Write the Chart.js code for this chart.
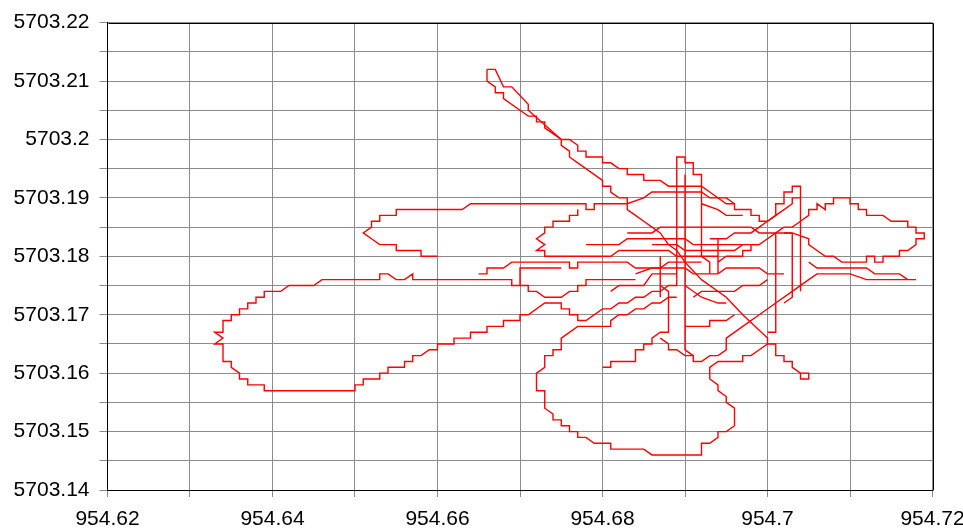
<!DOCTYPE html>
<html>
<head>
<meta charset="utf-8">
<script src="https://cdn.jsdelivr.net/npm/chart.js@4.4.1/dist/chart.umd.min.js"></script>
<style>
  html, body { margin: 0; padding: 0; background: #fff; }
  #wrap { width: 963px; height: 532px; }
</style>
</head>
<body>
<div id="wrap"><canvas id="track" width="963" height="532"></canvas></div>
<script>
// Axis labels (only every other grid line carries a label)
const xLabels = ['954.62', '954.64', '954.66', '954.68', '954.7', '954.72'];
const yLabels = ['5703.14', '5703.15', '5703.16', '5703.17', '5703.18', '5703.19', '5703.2', '5703.21', '5703.22'];

// Track pieces, [x, y]
const westLoop = [
  [954.684, 5703.176], [954.678, 5703.176], [954.678, 5703.175], [954.677, 5703.175], [954.677, 5703.174],
  [954.676, 5703.174], [954.675, 5703.173], [954.673, 5703.173], [954.672, 5703.174], [954.671, 5703.174],
  [954.671, 5703.175], [954.669, 5703.175], [954.669, 5703.176], [954.657, 5703.176], [954.657, 5703.177],
  [954.656, 5703.176], [954.655, 5703.176], [954.654, 5703.177], [954.653, 5703.177], [954.653, 5703.176],
  [954.646, 5703.176], [954.645, 5703.175], [954.642, 5703.175], [954.641, 5703.174], [954.639, 5703.174],
  [954.639, 5703.173], [954.638, 5703.173], [954.638, 5703.172], [954.637, 5703.172], [954.637, 5703.171],
  [954.636, 5703.171], [954.636, 5703.170], [954.635, 5703.170], [954.635, 5703.169], [954.634, 5703.169],
  [954.634, 5703.167], [954.633, 5703.167], [954.634, 5703.166], [954.633, 5703.165], [954.634, 5703.165],
  [954.634, 5703.162], [954.635, 5703.162], [954.635, 5703.161], [954.636, 5703.160], [954.636, 5703.159],
  [954.637, 5703.159], [954.637, 5703.158], [954.639, 5703.158], [954.639, 5703.157], [954.650, 5703.157],
  [954.650, 5703.158], [954.651, 5703.158], [954.651, 5703.159], [954.653, 5703.159], [954.653, 5703.160],
  [954.654, 5703.160], [954.654, 5703.161], [954.656, 5703.161], [954.656, 5703.162], [954.657, 5703.162],
  [954.657, 5703.163], [954.658, 5703.163], [954.659, 5703.164], [954.660, 5703.164], [954.660, 5703.165],
  [954.662, 5703.165], [954.662, 5703.166], [954.664, 5703.166], [954.664, 5703.167], [954.666, 5703.167],
  [954.666, 5703.168], [954.668, 5703.168], [954.668, 5703.169], [954.670, 5703.169], [954.670, 5703.170],
  [954.671, 5703.170], [954.673, 5703.172], [954.675, 5703.172], [954.675, 5703.171], [954.676, 5703.171],
  [954.676, 5703.170], [954.677, 5703.170], [954.677, 5703.169], [954.678, 5703.169], [954.680, 5703.171],
  [954.681, 5703.171], [954.682, 5703.172], [954.683, 5703.172], [954.684, 5703.173], [954.685, 5703.173],
  [954.686, 5703.174], [954.687, 5703.174], [954.688, 5703.175], [954.689, 5703.175], [954.689, 5703.176],
];

const southLoop = [
  [954.689, 5703.173], [954.688, 5703.173], [954.687, 5703.172], [954.686, 5703.172], [954.685, 5703.171],
  [954.684, 5703.171], [954.683, 5703.170], [954.682, 5703.170], [954.681, 5703.169], [954.681, 5703.168],
  [954.678, 5703.168], [954.677, 5703.168], [954.675, 5703.166], [954.675, 5703.164], [954.674, 5703.164],
  [954.674, 5703.163], [954.673, 5703.163], [954.673, 5703.161], [954.672, 5703.160], [954.672, 5703.157],
  [954.673, 5703.157], [954.673, 5703.154], [954.674, 5703.153], [954.674, 5703.152], [954.675, 5703.152],
  [954.675, 5703.151], [954.676, 5703.151], [954.676, 5703.150], [954.677, 5703.150], [954.677, 5703.149],
  [954.678, 5703.149], [954.679, 5703.148], [954.681, 5703.148], [954.681, 5703.147], [954.685, 5703.147],
  [954.686, 5703.146], [954.692, 5703.146], [954.692, 5703.148], [954.693, 5703.148], [954.694, 5703.149],
  [954.694, 5703.150], [954.695, 5703.150], [954.696, 5703.151], [954.696, 5703.154], [954.695, 5703.155],
  [954.695, 5703.156], [954.694, 5703.157], [954.694, 5703.158], [954.693, 5703.159], [954.693, 5703.161],
  [954.694, 5703.162], [954.697, 5703.162], [954.697, 5703.163], [954.698, 5703.163], [954.699, 5703.164],
  [954.700, 5703.165], [954.701, 5703.165], [954.701, 5703.163], [954.702, 5703.163], [954.702, 5703.162],
  [954.703, 5703.162], [954.703, 5703.161], [954.704, 5703.160], [954.704, 5703.159], [954.705, 5703.159],
  [954.705, 5703.160], [954.704, 5703.160],
];

const upperLoop = [
  [954.660, 5703.180], [954.658, 5703.180], [954.658, 5703.181], [954.655, 5703.181], [954.655, 5703.182],
  [954.653, 5703.182], [954.652, 5703.183], [954.651, 5703.184], [954.652, 5703.185], [954.652, 5703.186],
  [954.653, 5703.186], [954.653, 5703.187], [954.655, 5703.187], [954.655, 5703.188], [954.663, 5703.188],
  [954.664, 5703.189], [954.678, 5703.189], [954.678, 5703.188], [954.679, 5703.188], [954.679, 5703.189],
  [954.683, 5703.189], [954.685, 5703.190], [954.686, 5703.191], [954.692, 5703.191], [954.693, 5703.190],
  [954.695, 5703.190], [954.696, 5703.189],
];

const spurOuter = [
  [954.666, 5703.212], [954.667, 5703.212], [954.668, 5703.209], [954.669, 5703.209], [954.671, 5703.206],
  [954.671, 5703.205], [954.675, 5703.200], [954.676, 5703.200], [954.677, 5703.199], [954.677, 5703.198],
  [954.678, 5703.198], [954.678, 5703.197], [954.680, 5703.197], [954.680, 5703.196], [954.681, 5703.196],
  [954.682, 5703.195], [954.683, 5703.195], [954.683, 5703.194], [954.685, 5703.194], [954.685, 5703.193],
  [954.687, 5703.193], [954.688, 5703.192], [954.692, 5703.192], [954.693, 5703.191], [954.695, 5703.189],
  [954.696, 5703.189], [954.696, 5703.188], [954.698, 5703.188], [954.698, 5703.187], [954.699, 5703.187],
  [954.699, 5703.186], [954.700, 5703.186], [954.701, 5703.187], [954.701, 5703.189], [954.702, 5703.189],
  [954.702, 5703.191], [954.703, 5703.191], [954.703, 5703.192], [954.704, 5703.192], [954.704, 5703.174],
];

const spurInner = [
  [954.666, 5703.212], [954.666, 5703.210], [954.667, 5703.209], [954.667, 5703.208], [954.668, 5703.208],
  [954.668, 5703.207], [954.670, 5703.205], [954.671, 5703.204], [954.672, 5703.204], [954.672, 5703.203],
  [954.673, 5703.203], [954.673, 5703.202], [954.674, 5703.201], [954.675, 5703.200], [954.675, 5703.199],
  [954.676, 5703.198], [954.676, 5703.197], [954.677, 5703.196], [954.680, 5703.193], [954.680, 5703.192],
  [954.681, 5703.192], [954.681, 5703.191], [954.682, 5703.190], [954.683, 5703.190], [954.683, 5703.188],
  [954.684, 5703.187], [954.685, 5703.186], [954.686, 5703.185], [954.687, 5703.184], [954.688, 5703.182],
  [954.689, 5703.181], [954.690, 5703.179], [954.692, 5703.176], [954.695, 5703.173], [954.697, 5703.170],
  [954.700, 5703.166], [954.700, 5703.165],
];

const northSpike = [
  [954.689, 5703.176], [954.689, 5703.197], [954.690, 5703.197], [954.690, 5703.196], [954.691, 5703.196],
  [954.691, 5703.194], [954.692, 5703.194], [954.692, 5703.180], [954.693, 5703.179], [954.693, 5703.177],
];

const spikeColumn = [[954.690, 5703.194], [954.690, 5703.164], [954.691, 5703.163]];

const eastLoop = [
  [954.694, 5703.179], [954.695, 5703.180], [954.697, 5703.180], [954.697, 5703.181], [954.698, 5703.181],
  [954.698, 5703.182], [954.699, 5703.182], [954.700, 5703.183], [954.701, 5703.184], [954.702, 5703.185],
  [954.703, 5703.185], [954.704, 5703.186], [954.705, 5703.187], [954.705, 5703.188], [954.706, 5703.188],
  [954.706, 5703.189], [954.707, 5703.188], [954.707, 5703.189], [954.708, 5703.189], [954.708, 5703.190],
  [954.710, 5703.190], [954.710, 5703.189], [954.711, 5703.189], [954.711, 5703.188], [954.712, 5703.188],
  [954.712, 5703.187], [954.714, 5703.187], [954.715, 5703.186], [954.717, 5703.186], [954.717, 5703.185],
  [954.718, 5703.185], [954.718, 5703.184], [954.719, 5703.184], [954.719, 5703.183], [954.718, 5703.183],
  [954.718, 5703.182], [954.717, 5703.181], [954.716, 5703.181], [954.716, 5703.180], [954.714, 5703.180],
  [954.714, 5703.179], [954.713, 5703.179], [954.713, 5703.180], [954.712, 5703.180], [954.712, 5703.179],
  [954.709, 5703.179], [954.708, 5703.180], [954.707, 5703.180], [954.706, 5703.181], [954.705, 5703.182],
  [954.705, 5703.183], [954.703, 5703.184], [954.702, 5703.184],
];

const eastLowerOuter = [
  [954.687, 5703.166], [954.688, 5703.165], [954.688, 5703.164], [954.689, 5703.164], [954.690, 5703.163],
  [954.691, 5703.163], [954.691, 5703.162], [954.692, 5703.162], [954.693, 5703.163], [954.694, 5703.163],
  [954.695, 5703.164], [954.695, 5703.166], [954.697, 5703.168], [954.699, 5703.170], [954.701, 5703.172],
  [954.703, 5703.174], [954.705, 5703.176], [954.706, 5703.177], [954.710, 5703.177], [954.712, 5703.176],
  [954.718, 5703.176],
];

const eastLowerInner = [
  [954.705, 5703.179], [954.706, 5703.178], [954.712, 5703.178], [954.713, 5703.177], [954.716, 5703.177],
  [954.717, 5703.176],
];

const deadEnd = [
  [954.680, 5703.161], [954.681, 5703.161], [954.681, 5703.162], [954.684, 5703.162], [954.684, 5703.164],
  [954.685, 5703.164], [954.685, 5703.165], [954.686, 5703.165], [954.686, 5703.166], [954.687, 5703.167],
  [954.688, 5703.167], [954.688, 5703.174], [954.687, 5703.175],
];

const tipStairs = [
  [954.704, 5703.190], [954.703, 5703.190], [954.703, 5703.189], [954.702, 5703.188], [954.701, 5703.187],
  [954.700, 5703.186], [954.699, 5703.185], [954.698, 5703.184], [954.696, 5703.184], [954.695, 5703.183],
  [954.693, 5703.183],
];

const midRowA = [
  [954.683, 5703.184], [954.686, 5703.184], [954.687, 5703.185], [954.698, 5703.185], [954.699, 5703.184],
  [954.703, 5703.184],
];

const midRowB = [
  [954.678, 5703.182], [954.682, 5703.182], [954.683, 5703.183], [954.690, 5703.183], [954.691, 5703.182],
  [954.697, 5703.182],
];

const midRowC = [
  [954.677, 5703.188], [954.677, 5703.187], [954.676, 5703.187], [954.676, 5703.186], [954.674, 5703.186],
  [954.674, 5703.185], [954.673, 5703.185], [954.673, 5703.184], [954.672, 5703.183], [954.673, 5703.182],
  [954.672, 5703.181], [954.673, 5703.181], [954.673, 5703.180], [954.674, 5703.180], [954.681, 5703.180],
  [954.682, 5703.181], [954.688, 5703.181], [954.689, 5703.180], [954.694, 5703.180],
];

const midRowD = [
  [954.665, 5703.177], [954.666, 5703.177], [954.666, 5703.178], [954.668, 5703.178], [954.669, 5703.179],
  [954.676, 5703.179], [954.676, 5703.178], [954.677, 5703.178], [954.677, 5703.179], [954.683, 5703.179],
  [954.684, 5703.178], [954.687, 5703.178], [954.688, 5703.179], [954.692, 5703.179],
];

const midRowE = [
  [954.686, 5703.182], [954.689, 5703.182], [954.690, 5703.181], [954.696, 5703.181], [954.697, 5703.182],
  [954.699, 5703.182],
];

const midRowF = [
  [954.684, 5703.177], [954.686, 5703.178], [954.690, 5703.178], [954.691, 5703.177], [954.694, 5703.177],
  [954.695, 5703.178], [954.699, 5703.178], [954.700, 5703.177], [954.702, 5703.177],
];

const midRowG = [
  [954.692, 5703.189], [954.694, 5703.188], [954.695, 5703.187], [954.697, 5703.187],
];

const midLink = [[954.670, 5703.175], [954.670, 5703.178], [954.675, 5703.178]];

const midStub = [
  [954.681, 5703.174], [954.682, 5703.175], [954.685, 5703.175], [954.686, 5703.177], [954.689, 5703.177],
];

const colA = [[954.701, 5703.184], [954.701, 5703.167], [954.700, 5703.167]];
const colB = [[954.703, 5703.184], [954.703, 5703.173], [954.702, 5703.172]];
const colC = [[954.687, 5703.180], [954.687, 5703.173]];
const colD = [[954.694, 5703.183], [954.694, 5703.177]];

const lowBarA = [
  [954.691, 5703.173], [954.692, 5703.174], [954.696, 5703.174], [954.697, 5703.175], [954.699, 5703.175],
  [954.700, 5703.176],
];

const lowBarB = [
  [954.690, 5703.168], [954.693, 5703.168], [954.693, 5703.169], [954.695, 5703.169], [954.696, 5703.170],
];

const lowBarC = [
  [954.690, 5703.175], [954.692, 5703.173], [954.694, 5703.172], [954.695, 5703.172],
];

const pieces = [
  westLoop, southLoop, upperLoop, spurOuter, spurInner, northSpike, spikeColumn, eastLoop,
  eastLowerOuter, eastLowerInner, deadEnd, tipStairs, midRowA, midRowB, midRowC, midRowD,
  midRowE, midRowF, midRowG, midLink, midStub, colA, colB, colC, colD, lowBarA, lowBarB, lowBarC,
];

const FONT = { family: "'Liberation Sans', Arial, sans-serif", size: 21 };
const GRID = '#8c8c8c';

function pickLabel(list, value) {
  const hit = list.find(l => Math.abs(Number(l) - value) < 1e-7);
  return hit || '';
}

// top and right frame lines
const frame = {
  id: 'frame',
  afterDraw(chart) {
    const { ctx, chartArea: a } = chart;
    ctx.save();
    ctx.strokeStyle = '#000';
    ctx.lineWidth = 1;
    ctx.beginPath();
    ctx.moveTo(Math.round(a.left) + 0.5, Math.round(a.top) + 0.5);
    ctx.lineTo(Math.round(a.right) + 0.5, Math.round(a.top) + 0.5);
    ctx.lineTo(Math.round(a.right) + 0.5, Math.round(a.bottom) + 0.5);
    ctx.stroke();
    ctx.restore();
  },
};

new Chart(document.getElementById('track'), {
  type: 'scatter',
  data: {
    datasets: pieces.map(p => ({
      data: p.map(([x, y]) => ({ x, y })),
      showLine: true,
      borderColor: '#ff0000',
      borderWidth: 1.4,
      pointRadius: 0,
      tension: 0,
    })),
  },
  options: {
    responsive: false,
    animation: false,
    layout: { padding: { top: 19.5, right: 30.5, left: 0, bottom: 0 } },
    plugins: { legend: { display: false }, tooltip: { enabled: false } },
    scales: {
      x: {
        type: 'linear',
        min: 954.62,
        max: 954.72,
        afterFit(scale) { scale.height = 42; scale.paddingLeft = 0; scale.paddingRight = 0; },
        ticks: {
          stepSize: 0.01,
          autoSkip: false,
          maxRotation: 0,
          padding: 10,
          color: '#000',
          font: FONT,
          callback: v => pickLabel(xLabels, v),
        },
        grid: { color: GRID, lineWidth: 1, tickLength: 7, tickColor: GRID },
        border: { color: '#000', width: 1 },
      },
      y: {
        type: 'linear',
        min: 5703.14,
        max: 5703.22,
        afterFit(scale) { scale.width = 107.5; },
        ticks: {
          stepSize: 0.005,
          autoSkip: false,
          padding: 10,
          color: '#000',
          font: FONT,
          callback: v => pickLabel(yLabels, v),
        },
        grid: { color: GRID, lineWidth: 1, tickLength: 8, tickColor: GRID },
        border: { color: '#000', width: 1 },
      },
    },
  },
  plugins: [frame],
});
</script>
</body>
</html>
